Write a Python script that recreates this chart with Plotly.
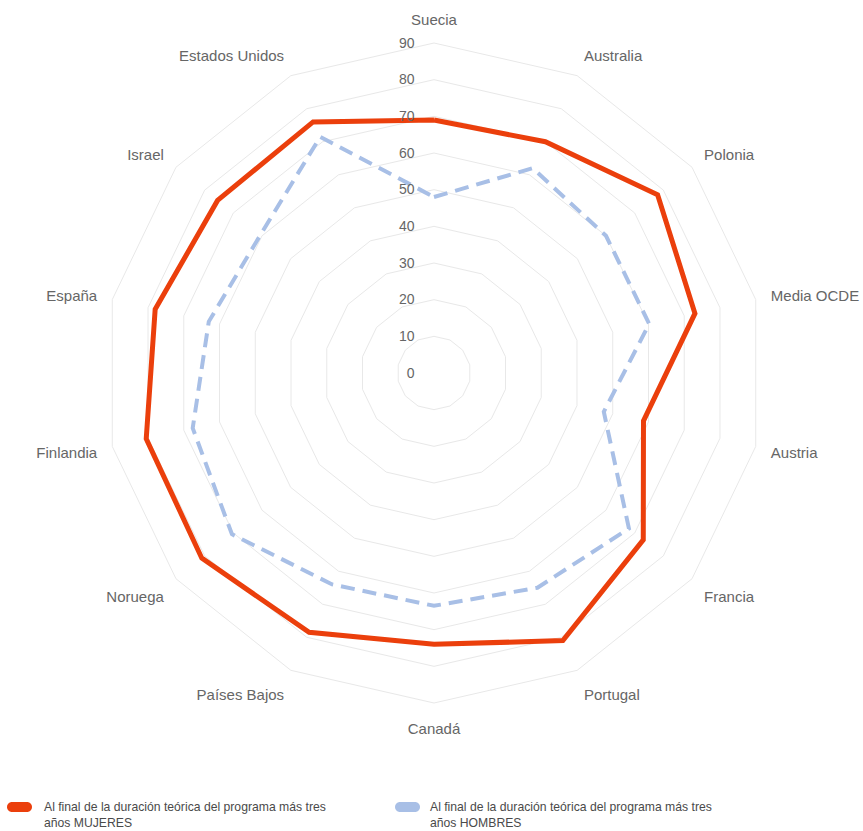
import plotly.graph_objects as go

categories = ["Suecia", "Australia", "Polonia", "Media OCDE", "Austria", "Francia",
              "Portugal", "Canadá", "Países Bajos", "Noruega", "Finlandia", "España",
              "Israel", "Estados Unidos"]
mujeres = [69, 70, 78, 73, 58.6, 73, 81, 74, 78.5, 81, 80.5, 78, 75.5, 76]
hombres = [48, 62, 60, 60.2, 47.5, 68, 65, 63.5, 64, 70.5, 67.5, 63, 60.5, 71.5]
radial_ticks = [0, 10, 20, 30, 40, 50, 60, 70, 80, 90]
legend_labels = ["Al final de la duración teórica del programa más tres<br>años MUJERES",
                 "Al final de la duración teórica del programa más tres<br>años HOMBRES"]

RED = "#eb3f0c"
BLUE = "#a8bfe6"

W, H = 863, 831
ML, MR, MT, MB = 104, 99, 43, 128
PW, PH = W - ML - MR, H - MT - MB


def px2paper(x, y):
    return (x - ML) / PW, (H - MB - y) / PH


def pill_path(x0, x1, y0, y1):
    r = (y1 - y0) / 2
    yc = (y0 + y1) / 2
    k = 0.5523 * r
    def P(x, y):
        a, b = px2paper(x, y)
        return f"{a:.5f},{b:.5f}"
    s = f"M{P(x0 + r, y0)} L{P(x1 - r, y0)} "
    s += f"C{P(x1 - r + k, y0)} {P(x1, yc - k)} {P(x1, yc)} "
    s += f"C{P(x1, yc + k)} {P(x1 - r + k, y1)} {P(x1 - r, y1)} "
    s += f"L{P(x0 + r, y1)} "
    s += f"C{P(x0 + r - k, y1)} {P(x0, yc + k)} {P(x0, yc)} "
    s += f"C{P(x0, yc - k)} {P(x0 + r - k, y0)} {P(x0 + r, y0)} Z"
    return s


fig = go.Figure()
fig.add_trace(go.Scatterpolar(
    r=mujeres + mujeres[:1], theta=categories + categories[:1],
    mode="lines", line=dict(color=RED, width=5), name="MUJERES",
    showlegend=False, hoverinfo="r+theta"))
fig.add_trace(go.Scatterpolar(
    r=hombres + hombres[:1], theta=categories + categories[:1],
    mode="lines", line=dict(color=BLUE, width=4, dash="14px,8px"), name="HOMBRES",
    showlegend=False, hoverinfo="r+theta"))

shapes = [
    dict(type="path", xref="paper", yref="paper", path=pill_path(7, 32, 802, 812),
         fillcolor=RED, line=dict(width=0)),
    dict(type="path", xref="paper", yref="paper", path=pill_path(395, 420, 802, 812),
         fillcolor=BLUE, line=dict(width=0)),
]
annotations = []
for lx, txt in [(42, legend_labels[0]), (428, legend_labels[1])]:
    ax, ay = px2paper(lx, 815)
    annotations.append(dict(x=ax, y=ay, xref="paper", yref="paper", text=txt,
                            showarrow=False, xanchor="left", yanchor="middle", align="left",
                            font=dict(family="Liberation Sans, Arial", size=12.2, color="#4a4a4a")))

fig.update_layout(
    width=W, height=H,
    margin=dict(l=ML, r=MR, t=MT, b=MB),
    paper_bgcolor="white",
    font=dict(family="Liberation Sans, Arial", color="#666666"),
    polar=dict(
        domain=dict(x=[0, 1], y=[0, 1]),
        bgcolor="white",
        gridshape="linear",
        radialaxis=dict(range=[0, 90], tickvals=radial_ticks, angle=90, tickangle=90,
                        side="counterclockwise", showline=False,
                        ticks="outside", ticklen=14, tickcolor="rgba(0,0,0,0)",
                        gridcolor="#e8e8e8", gridwidth=1,
                        tickfont=dict(size=14, color="#666666")),
        angularaxis=dict(direction="clockwise", rotation=90, showgrid=False,
                         showline=True, linecolor="#e8e8e8", linewidth=1,
                         ticks="outside", ticklen=12, tickcolor="rgba(0,0,0,0)",
                         tickfont=dict(size=15, color="#666666")),
    ),
    shapes=shapes,
    annotations=annotations,
)

fig.write_html("out.html", config={"displayModeBar": False},
               post_script="document.body.style.margin='0px';document.body.style.overflow='hidden';")
